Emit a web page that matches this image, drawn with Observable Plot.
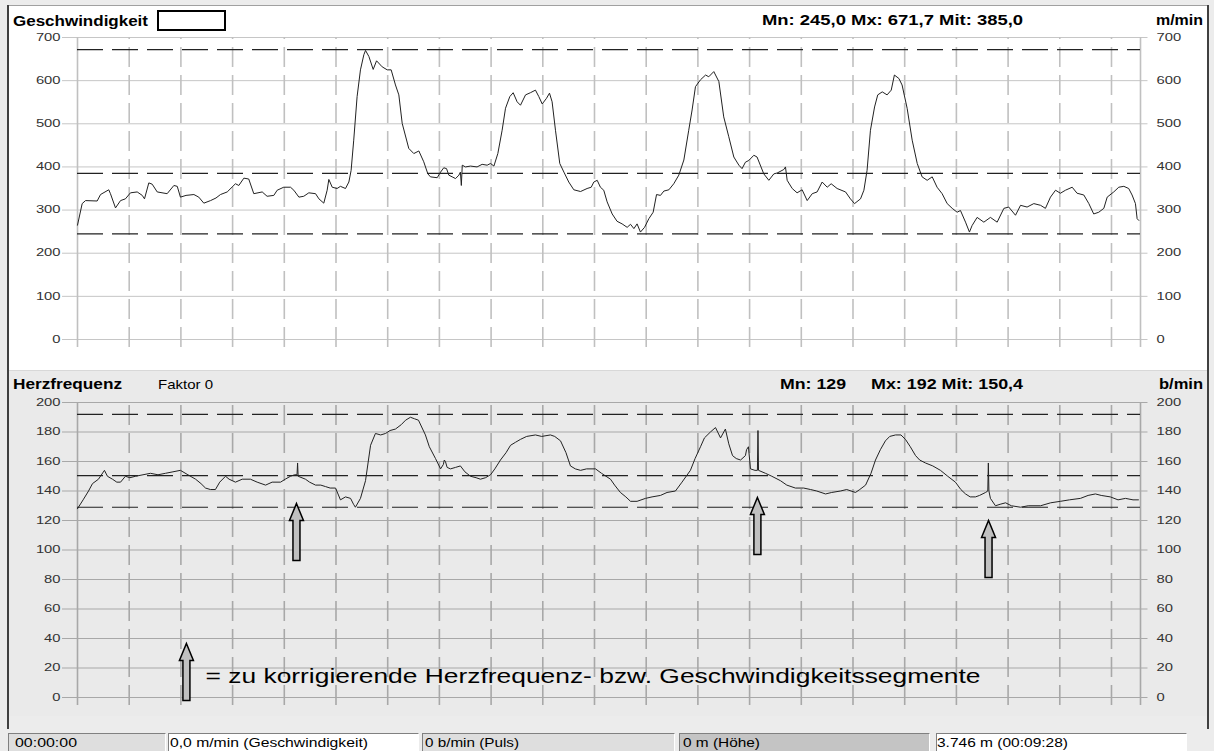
<!DOCTYPE html>
<html><head><meta charset="utf-8">
<script src="https://cdn.jsdelivr.net/npm/d3@7"></script>
<script src="https://cdn.jsdelivr.net/npm/@observablehq/plot@0.6"></script>
<style>
html,body{margin:0;padding:0;background:#ececec;}
#root{position:relative;width:1214px;height:751px;overflow:hidden;background:#ececec;font-family:"Liberation Sans",Arial,sans-serif;}
.abs{position:absolute;}
.lbl{position:absolute;white-space:nowrap;transform-origin:0 0;line-height:1;color:#000;}
.box{position:absolute;box-sizing:border-box;border-top:1px solid #808080;border-left:1px solid #808080;border-bottom:1px solid #fff;border-right:1px solid #fff;}
</style>
</head><body><div id="root"></div>
<script>
// ---------- data ----------
const speedTicks = [0,100,200,300,400,500,600,700];
const hrTicks = [0,20,40,60,80,100,120,140,160,180,200];
const speedStats = [245.0, 671.7, 385.0];   // Mn, Mx, Mit (m/min)
const hrStats = [129, 192, 150.4];          // Mn, Mx, Mit (b/min)
const sessionSeconds = 568;                 // 00:09:28
// speed [seconds, m/min]
const speedSeries = [[0,265],[2.5,315],[4.3,322],[10.5,321],[12.3,336],[16.7,347],[17.6,338],[20.3,305],[23.0,322],[25.6,326],[28.3,340],[31.9,342],[34.6,334],[35.8,326],[38.1,363],[39.9,360],[42.6,342],[47.9,338],[51.5,357],[53.3,355],[55.0,330],[58,334],[62.2,336],[64.8,330],[67.5,316],[71.1,322],[74,328],[76.4,336],[80.0,342],[84.4,361],[86.2,357],[88.9,374],[91.5,372],[94.2,338],[98.7,342],[101.3,332],[104.9,334],[106.7,346],[110.2,353],[113.8,353],[115.6,346],[118.3,330],[120.9,332],[123.6,340],[127.2,338],[129.0,326],[131.6,316],[133.4,346],[134.3,371],[136.1,353],[138.7,350],[140.5,355],[143.2,350],[145.0,365],[146.2,392],[147.6,462],[149.4,563],[151.2,625],[153.0,660],[153.9,670],[155.7,656],[158.0,626],[159.8,646],[162.8,632],[165.5,625],[167.6,625],[169.9,590],[171.7,567],[173.5,501],[177.0,443],[179.7,431],[182.4,437],[185.0,412],[187.2,384],[188.6,377],[192.2,375],[194.0,388],[195.7,398],[197.2,396],[198.4,381],[200.2,377],[202.0,373],[203.8,381],[204.6,388],[205.1,357],[205.6,404],[207.3,400],[210.0,402],[213.5,400],[216.2,406],[218.9,404],[220.7,408],[222.5,402],[224.6,431],[226.9,485],[228.7,536],[231.0,563],[232.8,572],[234.9,551],[236.7,543],[239.4,567],[242.0,572],[244.7,578],[246.5,563],[248.3,546],[250.6,559],[252.2,571],[253.6,551],[255.4,485],[257.7,408],[259.9,388],[262.5,365],[265.2,347],[268.8,343],[272.3,350],[274.5,353],[275.9,365],[277.7,369],[279.4,353],[281.2,346],[283.0,319],[285.7,291],[288.3,274],[291.0,268],[293.7,260],[295.5,267],[297.3,257],[299.0,268],[300.8,249],[303.0,260],[305.3,280],[307.6,295],[309.4,336],[311.5,334],[313.3,344],[316.0,347],[318.6,361],[321.3,381],[324.0,416],[326.6,485],[328.4,532],[330.2,586],[332.9,602],[335.6,613],[337.3,609],[340.0,621],[342.7,598],[345.3,516],[348.0,470],[350.7,423],[353.4,404],[355.1,396],[356.9,411],[358.7,415],[361.4,427],[363.1,423],[366.7,384],[369.4,369],[372.1,384],[373.9,386],[377.4,394],[378.3,400],[379.2,369],[381.9,350],[384.5,340],[387.2,347],[389.9,322],[392.6,338],[395.2,342],[397.9,365],[400.6,353],[402.7,361],[405.9,350],[410.4,342],[413.0,326],[415.2,315],[418.4,326],[420.2,346],[421.9,392],[423.7,485],[425.9,539],[427.6,567],[430.0,574],[432.6,567],[434.8,578],[436.5,613],[438.9,605],[440.6,590],[443.3,536],[446.0,462],[448.7,408],[451.3,377],[454.0,369],[456.7,377],[459.3,353],[462.0,338],[464.7,315],[467.4,304],[470.0,295],[471.8,299],[474.5,272],[476.6,249],[478.0,264],[480.7,283],[484.3,272],[487.8,283],[491.4,272],[495.0,304],[497.6,307],[501.2,288],[503.9,311],[507.4,307],[511.0,315],[514.6,311],[517.2,304],[519.9,330],[522.6,346],[525.2,339],[527.9,346],[531.5,353],[534.1,339],[537.7,335],[540.4,315],[543.0,291],[545.7,295],[548.4,304],[550.2,330],[553.7,342],[556.4,353],[559.1,355],[561.7,350],[563.5,335],[565.3,315],[566.2,280],[567.1,276]];
// heart rate [seconds, b/min]
const hrSeries = [[0,128],[3,134],[5.9,140],[8,145],[11.2,148],[14.4,154],[16,150],[18.7,148],[21,146],[23.0,146],[25.6,150],[28,149],[31.0,150],[35,151],[39.0,152],[43,151],[47.0,152],[51,153],[55.0,154],[59,151],[63.1,148],[66,145],[68.4,142],[71,141],[73.7,141],[76,146],[79.1,150],[81,148],[84.4,146],[88,148],[92.4,148],[96,146],[100.5,144],[104,146],[108.5,146],[111,148],[113.8,150],[116,151],[117.3,151],[117.6,159],[117.9,150],[121.8,148],[124,146],[127.2,144],[130,144],[132.5,143],[135,142],[137.9,142],[140.5,134],[143.2,136],[145.9,135],[147.5,131],[148.5,129],[151.2,135],[153.9,147],[156.6,171],[159.2,179],[162,178],[164.6,179],[167,181],[169.9,182],[173,185],[175.3,188],[177.9,190],[180,189],[182.2,188],[185.9,178],[188,170],[191.3,162],[194.0,155],[195.5,158],[196,161],[196.6,160],[197.5,156],[199.3,155],[202,156],[204.6,157],[207,153],[210.0,150],[213,149],[215.3,148],[218,149],[220.7,151],[223,155],[226.0,161],[229,166],[231.4,171],[234,173],[236.7,175],[240,177],[244.7,178],[248,177],[252.7,178],[255,177],[258.1,174],[261,166],[263.4,157],[266,155],[268.8,154],[272,155],[276.8,155],[280,152],[284.8,148],[287,144],[290.1,139],[293,136],[295.5,133],[299,133],[303.5,135],[307,136],[311.5,137],[315,139],[319.5,140],[323,146],[327.5,154],[330,162],[332.9,170],[335,176],[338.2,180],[340.9,183],[343.6,176],[346.2,182],[348,172],[350.0,164],[352,162],[354.3,161],[356.9,164],[357.5,168],[358.5,170],[359.6,155],[362,154],[363.3,154],[363.6,181],[363.9,154],[367.6,152],[371,150],[375.6,147],[379,144],[383.6,142],[388,142],[391.7,141],[395,140],[399.7,138],[403,139],[407.7,140],[411,141],[415.7,139],[418,141],[421.1,144],[424,152],[426.4,161],[429,168],[431.7,174],[434,177],[437.1,178],[440,178],[442.4,175],[445,170],[447.8,164],[450,161],[453.1,159],[457,157],[461.1,154],[465,150],[469.1,146],[472,141],[474.5,138],[477,136],[479.8,136],[482,137],[485.2,139],[486.4,140],[486.7,159],[487.0,140],[487.8,135],[490.5,130],[493,131],[495.9,132],[499,130],[503.9,129],[508,130],[514.6,130],[520,132],[525.2,133],[530,134],[535.9,135],[540,137],[543.9,138],[547,137],[551.9,136],[556,134],[560.0,135],[564,134],[566.9,134]];
// arrows marking segments to correct: [seconds, b/min at arrow tip]
const arrowMarks = [[117.0,131.5],[363.3,135.6],[486.8,120.0]];
const legendArrow = [[58.2,36.6]];
const noteText = "= zu korrigierende Herzfrequenz- bzw. Geschwindigkeitssegmente";
const noteAnchor = [[68.4,14.2]];
const statusTexts = ["00:00:00","0,0 m/min (Geschwindigkeit)","0 b/min (Puls)","0 m (Höhe)","3.746 m (00:09:28)"];

(function(){
// ---------- layout helpers ----------
const root = document.getElementById("root");
function div(cls, css){const d=document.createElement("div");d.className=cls;Object.assign(d.style,css);root.appendChild(d);return d;}
function label(text,{left,base,width,size,bold}){
  const d=div("lbl",{left:left+"px",top:(base-0.8465*size)+"px",fontSize:size+"px",fontWeight:bold?"bold":"normal"});
  d.textContent=text;
  const w=d.getBoundingClientRect().width;
  if(width&&w>0) d.style.transform=`scaleX(${width/w})`;
  return d;
}
const fmt1 = v => v.toFixed(1).replace(".", ",");
const fmtHr = v => Number.isInteger(v) ? String(v) : fmt1(v);

// panels
div("abs",{left:"8px",top:"5px",width:"1200px",height:"364px",background:"#fff",borderTop:"1px solid #a0a0a0"});
div("abs",{left:"8px",top:"370px",width:"1200px",height:"345px",background:"#eaeaea",borderTop:"1px solid #d8d8d8"});
div("abs",{left:"7px",top:"5px",width:"2px",height:"724px",background:"#404040"});
div("abs",{left:"1207px",top:"5px",width:"2px",height:"724px",background:"#404040"});

// ---------- charts ----------
const gridStep = 27.625;
const gridT = d3.range(0, 21).map(i => i * gridStep).filter(t => t > 0);
const edges = [0, sessionSeconds];
const sym = {draw(ctx){ctx.moveTo(0,0);ctx.lineTo(7,17);ctx.lineTo(3.5,17);ctx.lineTo(3.5,57);ctx.lineTo(-3.5,57);ctx.lineTo(-3.5,17);ctx.lineTo(-7,17);ctx.closePath();}};

function chart({ticks, domain, series, refs, height, marginTop, marginBottom, below, gridColor, vColor, extra}){
  const p = Plot.plot({
    width:1214, height, marginLeft:77, marginRight:74, marginTop, marginBottom,
    x:{domain:[0,sessionSeconds], axis:null},
    y:{domain, axis:null},
    style:{background:"transparent", fontFamily:"'Liberation Sans',Arial,sans-serif", fontSize:"10px", color:"#333", overflow:"visible"},
    marks:[
      Plot.ruleY(ticks, {x1:-8, x2:sessionSeconds+4, stroke:gridColor, strokeWidth:1}),
      Plot.ruleX(gridT, {y1:below, y2:domain[1], stroke:vColor, strokeWidth:1.6, strokeDasharray:"20,8"}),
      Plot.ruleX(edges, {y1:below, y2:domain[1], stroke:vColor, strokeWidth:1.6}),
      Plot.ruleY(refs, {x1:0, x2:sessionSeconds, stroke:"#222", strokeWidth:1.2, strokeDasharray:"26,9"}),
      Plot.line(series, {x:d=>d[0], y:d=>d[1], stroke:"#222", strokeWidth:1}),
      ...(extra||[]),
      Plot.axisY(ticks, {anchor:"left", tickSize:0, tickPadding:17, label:null, fill:"#333"}),
      Plot.axisY(ticks, {anchor:"right", tickSize:0, tickPadding:16, label:null, fill:"#333"})
    ]
  });
  p.querySelectorAll('g[aria-label="y-axis tick label"] text').forEach(t=>{
    t.setAttribute("textLength", t.textContent.length*8.2);
    t.setAttribute("lengthAdjust","spacingAndGlyphs");
  });
  return p;
}

const topChart = chart({ticks:speedTicks, domain:[0,700], series:speedSeries, refs:speedStats, height:360, marginTop:37, marginBottom:21, below:-18.5, gridColor:"#c6c6c6", vColor:"#c0c0c0"});
const topWrap = div("abs",{left:"0px",top:"0px"}); topWrap.appendChild(topChart);

const bottomChart = chart({ticks:hrTicks, domain:[0,200], series:hrSeries, refs:hrStats, height:345, marginTop:32, marginBottom:18, below:-5.5, gridColor:"#a8a8a8", vColor:"#a8a8a8",
  extra:[
    Plot.dot(arrowMarks, {x:d=>d[0], y:d=>d[1], symbol:sym, r:5, fill:"#c0c0c0", stroke:"#000", strokeWidth:1.5}),
    Plot.dot(legendArrow, {x:d=>d[0], y:d=>d[1], symbol:sym, r:5, fill:"#c0c0c0", stroke:"#000", strokeWidth:1.5}),
    Plot.text(noteAnchor, {x:d=>d[0], y:d=>d[1], text:()=>noteText, textAnchor:"start", fontSize:21, fill:"#000", fontFamily:"'Liberation Sans',Arial,sans-serif"})
  ]});
bottomChart.querySelectorAll('g[aria-label="text"] text').forEach(t=>{t.setAttribute("textLength",775);t.setAttribute("lengthAdjust","spacingAndGlyphs");});
const botWrap = div("abs",{left:"0px",top:"370px"}); botWrap.appendChild(bottomChart);

// ---------- headers ----------
label("Geschwindigkeit",{left:13,base:26,width:135,size:14,bold:true});
div("abs",{left:"157px",top:"10px",width:"69px",height:"21px",boxSizing:"border-box",border:"2px solid #000",background:"#fff"});
label(`Mn: ${fmt1(speedStats[0])} Mx: ${fmt1(speedStats[1])} Mit: ${fmt1(speedStats[2])}`,{left:762,base:25,width:261,size:14,bold:true});
label("m/min",{left:1156,base:25,width:47,size:14,bold:true});
label("Herzfrequenz",{left:13,base:389,width:109,size:14,bold:true});
label("Faktor 0",{left:158,base:389,width:55,size:13,bold:false});
label(`Mn: ${fmtHr(hrStats[0])}`,{left:780,base:389,width:66,size:14,bold:true});
label(`Mx: ${fmtHr(hrStats[1])} Mit: ${fmtHr(hrStats[2])}`,{left:871,base:389,width:152,size:14,bold:true});
label("b/min",{left:1159,base:389,width:44,size:14,bold:true});

// ---------- status bar ----------
const boxes = [[8,166,"#dedede",15,62],[168,419,"#ffffff",170,198],[422,675,"#dedede",425,94],[679,930,"#c4c4c4",683,77],[936,1187,"#ffffff",937,131]];
boxes.forEach((b,i)=>{
  div("box",{left:b[0]+"px",top:"733px",width:(b[1]-b[0])+"px",height:"19px",background:b[2]});
  label(statusTexts[i],{left:b[3],base:747,width:b[4],size:12,bold:false});
});
})();
</script></body></html>
